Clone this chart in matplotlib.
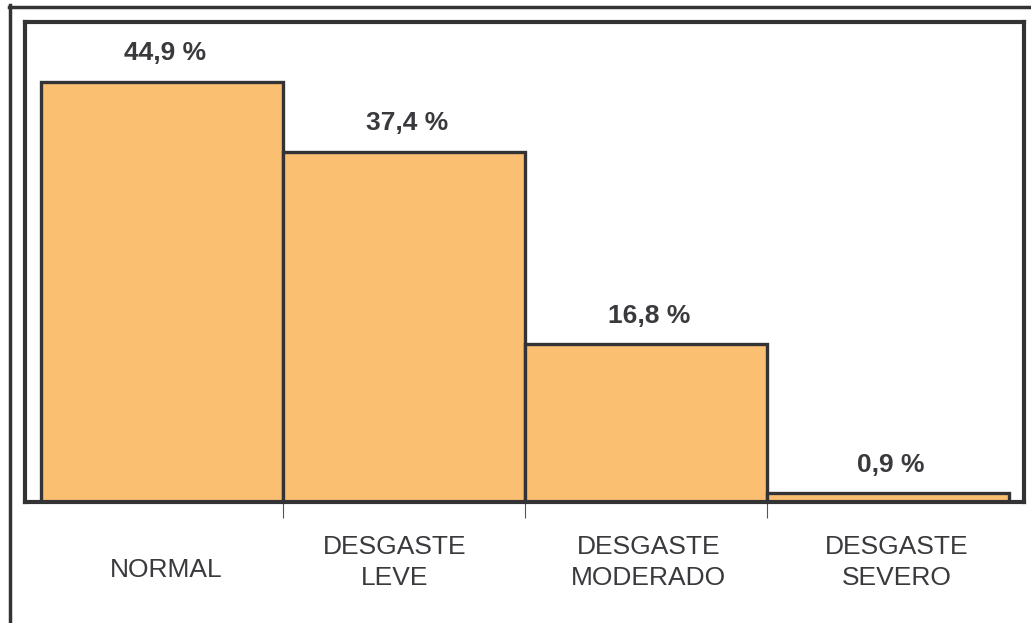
import matplotlib
matplotlib.use("Agg")
import matplotlib.pyplot as plt
from matplotlib.lines import Line2D

categories = ["NORMAL", "DESGASTE\nLEVE", "DESGASTE\nMODERADO", "DESGASTE\nSEVERO"]
values = [44.9, 37.4, 16.8, 0.9]
value_labels = ["44,9 %", "37,4 %", "16,8 %", "0,9 %"]

plt.rcParams['font.family'] = ['Liberation Sans', 'DejaVu Sans']

edge = '#333336'
fill = '#FBBF72'
txt = '#3a3a3e'

fig = plt.figure(figsize=(10.31, 6.23), dpi=100)
ax = fig.add_axes([0.0242, 0.195, 0.9690, 0.7697])

x = list(range(len(values)))
ax.bar(x, values, width=1.0, color=fill, edgecolor=edge, linewidth=2.4, zorder=2)

ax.set_xlim(-0.566, 3.562)
ax.set_ylim(0, 51.3)

for s in ax.spines.values():
    s.set_color(edge)
    s.set_linewidth(3)

# value labels above bars
for xi, v, lab in zip(x, values, value_labels):
    ax.annotate(lab, xy=(xi, v), xytext=(2, 15.5), textcoords='offset points',
                ha='center', va='baseline', fontsize=19, fontweight='bold', color=txt)

# category labels under the axis
ax.set_yticks([])
ax.set_xticks([])
ax.set_xticks([0.5, 1.5, 2.5], minor=True)
ax.tick_params(axis='x', which='minor', direction='out', length=11.5, width=0.8,
               color='#555558', labelbottom=False)

label_nudge = [3, -7, 2, 6]        # pt, horizontal
label_drop = [49, 44, 44, 44]  # pt below axis
for xi, cat, dx, dy in zip(x, categories, label_nudge, label_drop):
    ax.annotate(cat, xy=(xi, 0), xycoords=('data', 'axes fraction'),
                xytext=(dx, -dy), textcoords='offset points',
                ha='center', va='center', multialignment='center',
                fontsize=19, color=txt, linespacing=1.38)

# outer L-shaped frame
fig.add_artist(Line2D([10 / 1031, 10 / 1031], [0, 1 - 5 / 623], transform=fig.transFigure,
                      color=edge, linewidth=2.5))
fig.add_artist(Line2D([9 / 1031, 1.0], [1 - 7 / 623, 1 - 7 / 623], transform=fig.transFigure,
                      color=edge, linewidth=2.5))

fig.savefig("out.png", dpi=100)
plt.close(fig)
